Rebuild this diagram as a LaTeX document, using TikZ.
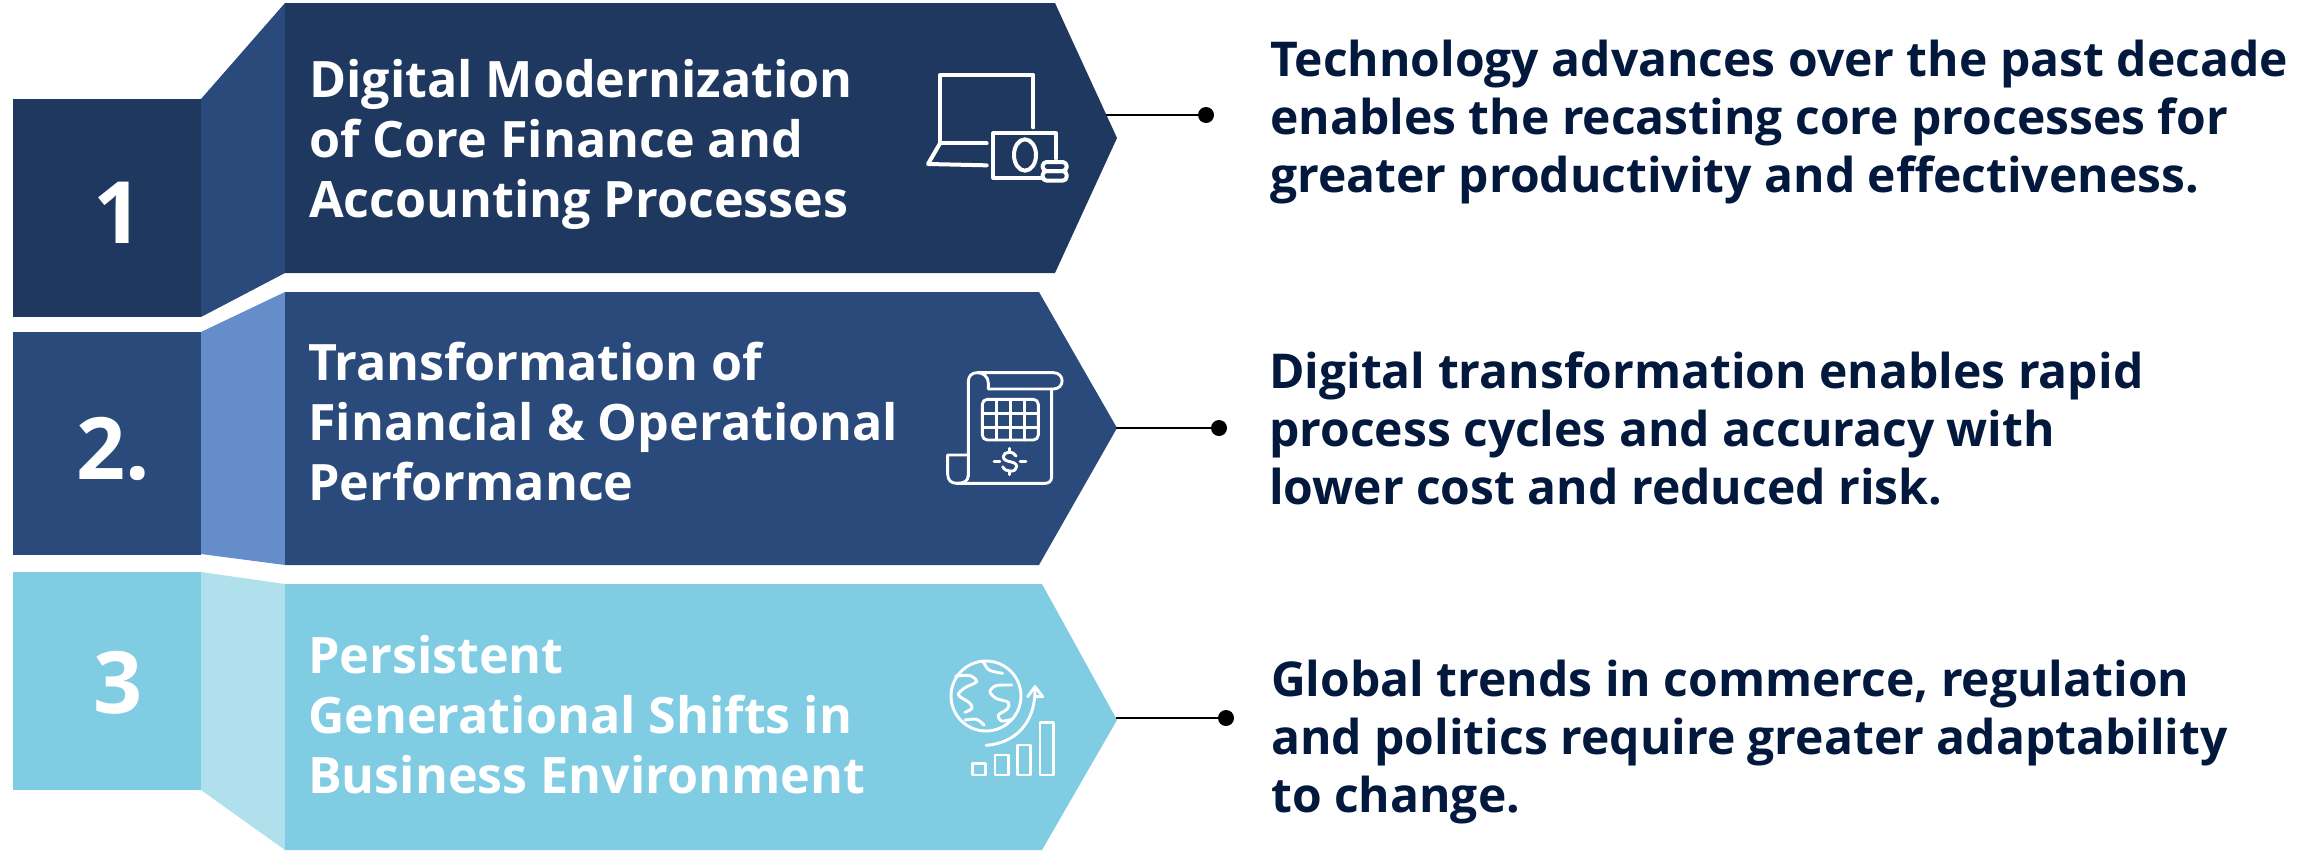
\documentclass[tikz,border=0pt]{standalone}
\usepackage{fontspec}
\setmainfont{Open Sans}
\definecolor{navy}{HTML}{1F3860}
\definecolor{midblue}{HTML}{2A4A7B}
\definecolor{softblue}{HTML}{648DC9}
\definecolor{skyblue}{HTML}{80CCE3}
\definecolor{paleblue}{HTML}{B1E0ED}
\definecolor{inktext}{HTML}{02183D}
\tikzset{
  numtext/.style={text=white,font=\fontsize{86}{86}\selectfont\bfseries,inner sep=0pt},
  titletext/.style={text=white,font=\fontsize{50.2}{60}\selectfont\bfseries,align=left,anchor=west,inner sep=0pt},
  desctext/.style={text=inktext,font=\fontsize{48}{58}\selectfont\bfseries,align=left,anchor=west,inner sep=0pt},
  icon/.style={draw=white,line width=2.9pt,line cap=round,line join=round,fill=none},
  icona/.style={draw=white,line width=4pt,line cap=round,line join=round,fill=none},
  leader/.style={draw=black,line width=2.6pt},
  leaddot/.style={circle,fill=black,inner sep=0pt,minimum size=16pt}
}
\begin{document}
\begin{tikzpicture}[x=1pt,y=-1pt]
\useasboundingbox (0,0) rectangle (2318,852);
% row 1
\fill[navy] (13,99) rectangle (201,317);
\fill[midblue] (201,99) -- (285,3) -- (285,273) -- (201,317) -- cycle;
\fill[navy] (285,3) -- (1055,3) -- (1117,138) -- (1055,273) -- (285,273) -- cycle;
% row 2
\fill[midblue] (13,332) rectangle (201,555);
\fill[softblue] (201,332) -- (285,292) -- (285,565) -- (201,554) -- cycle;
\fill[midblue] (285,292) -- (1039,292) -- (1117,428) -- (1039,565) -- (285,565) -- cycle;
% row 3
\fill[skyblue] (13,572) rectangle (201,790);
\fill[paleblue] (201,572) -- (285,584) -- (285,850) -- (201,790) -- cycle;
\fill[skyblue] (285,584) -- (1042,584) -- (1117,720) -- (1042,850) -- (285,850) -- cycle;
% numbers
\node[numtext] (n1) at (118,213) {1};
\node[numtext] (n2) at (113,449) {2.};
\node[numtext] (n3) at (118,683) {3};
% titles
\node[titletext] (t1) at (309,144) {Digital Modernization\\of Core Finance and\\Accounting Processes};
\node[titletext] (t2) at (308,422) {Transformation of\\Financial \& Operational\\Performance};
\node[titletext] (t3) at (308,715) {Persistent\\Generational Shifts in\\Business Environment};
% descriptions
\node[desctext] (d1) at (1270,122) {Technology advances over the past decade\\enables the recasting core processes for\\greater productivity and effectiveness.};
\node[desctext] (d2) at (1269,428.5) {Digital transformation enables rapid\\process cycles and accuracy with\\lower cost and reduced risk.};
\node[desctext] (d3) at (1271,742.5) {Global trends in commerce, regulation\\and politics require greater adaptability\\to change.};
% connectors
\coordinate (s1) at (1106,115);
\coordinate (s2) at (1116,428);
\coordinate (s3) at (1116,718);
\node[leaddot] (e1) at (1206,115) {};
\node[leaddot] (e2) at (1219,428) {};
\node[leaddot] (e3) at (1226,718) {};
\draw[leader] (s1) -- (e1);
\draw[leader] (s2) -- (e2);
\draw[leader] (s3) -- (e3);
% icon 1
\begin{scope}[shift={(900,40)},xscale=1/3,yscale=1/3]
\draw[icona] (400,262) -- (400,105) -- (120,105) -- (120,310) -- (260,310);
\draw[icona] (120,310) -- (84,372) -- (260,376);
\draw[icona] (430,413) -- (280,413) -- (280,280) -- (468,280) -- (468,355);
\draw[icona] (375,345) ellipse (33 and 47);
\draw[icona,rounded corners=4pt] (428,366) rectangle (500,393);
\draw[icona,rounded corners=4pt] (428,393) rectangle (500,422);
\end{scope}
% icon 2
\begin{scope}[shift={(920,350)},xscale=1/3,yscale=1/3]
\draw[icon] (145,380) -- (145,95) .. controls (145,78) and (155,68) .. (172,68) -- (400,68) .. controls (435,68) and (435,117) .. (400,117) -- (205,117) -- (205,100) .. controls (205,80) and (190,68) .. (172,68);
\draw[icon] (395,117) -- (395,380) .. controls (395,395) and (385,400) .. (375,400) -- (110,400) .. controls (93,400) and (83,390) .. (83,372) -- (83,315) -- (145,315);
\draw[icon] (110,400) .. controls (130,400) and (145,395) .. (145,375);
\draw[icon,rounded corners=5pt] (187,148) rectangle (355,270);
\foreach \xv in {230,272,313} \draw[icon] (\xv,148) -- (\xv,270);
\foreach \yv in {190,232} \draw[icon] (187,\yv) -- (355,\yv);
\draw[icon] (222,334) -- (240,334);
\draw[icon] (300,334) -- (318,334);
\draw[icon] (288,318) .. controls (280,300) and (250,305) .. (250,320) .. controls (250,340) and (290,330) .. (290,350) .. controls (290,368) and (255,368) .. (248,350);
\draw[icon] (269,295) -- (269,305);
\draw[icon] (269,364) -- (269,374);
\end{scope}
% icon 3
\begin{scope}[shift={(920,640)},xscale=1/3,yscale=1/3]
\draw[icon] (198,168) circle (105);
\draw[icon] plot[smooth] coordinates {(107,108) (150,107) (170,125) (135,143) (115,165) (148,188) (156,205) (135,217)};
\draw[icon] plot[smooth] coordinates {(275,135) (228,137) (210,155) (228,175) (265,187) (262,207) (235,225) (245,243) (275,238)};
\draw[icon] plot[smooth] coordinates {(190,65) (207,90) (248,100)};
\draw[icon] plot[smooth] coordinates {(135,240) (170,238) (192,255)};
\draw[icon] (198,316) .. controls (285,310) and (345,250) .. (345,150);
\draw[icon] (323,170) -- (345,140) -- (368,170) -- (345,170);
\draw[icon] (157,370) rectangle (197,405);
\draw[icon] (225,345) rectangle (265,405);
\draw[icon] (292,315) rectangle (332,405);
\draw[icon] (360,247) -- (400,247) -- (400,405) -- (360,405) -- cycle;
\end{scope}
\end{tikzpicture}
\end{document}
